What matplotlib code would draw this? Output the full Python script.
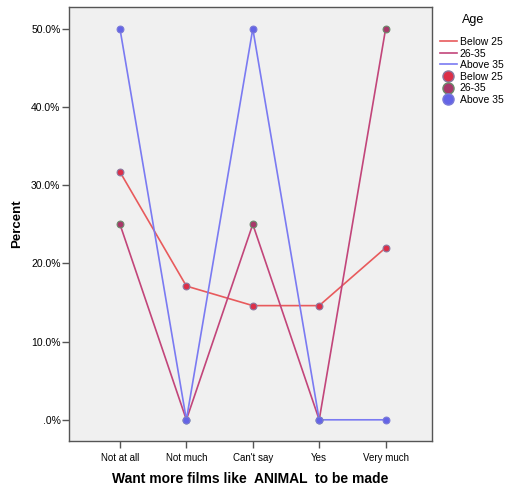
import matplotlib
matplotlib.use("Agg")
import matplotlib.pyplot as plt
from matplotlib.lines import Line2D
from matplotlib.ticker import FuncFormatter

# ── Data ─────────────────────────────────────────────────────────────────────
categories = ["Not at all", "Not much", "Can't say", "Yes", "Very much"]
below_25   = [31.7, 17.1, 14.6, 14.6, 22.0]
age_26_35  = [25.0, 0.0, 25.0, 0.0, 50.0]
above_35   = [50.0, 0.0, 50.0, 0.0, 0.0]
group_names = ["Below 25", "26-35", "Above 35"]

LINE_COLORS = ["#e85a5c", "#c2457a", "#7a7af2"]
MARK_FACE   = ["#dc2f48", "#a8386a", "#6464e6"]
MARK_EDGE   = ["#8a7aa0", "#6c8a6c", "#7a7ad8"]

plt.rcParams["font.family"] = ["Liberation Sans", "DejaVu Sans"]

fig = plt.figure(figsize=(5.06, 4.91), dpi=100)
ax = fig.add_axes([0.136, 0.102, 0.718, 0.884])
ax.set_facecolor("#f0f0f0")

x = list(range(len(categories)))
series = [below_25, age_26_35, above_35]
for vals, lc in zip(series, LINE_COLORS):
    ax.plot(x, vals, color=lc, lw=1.2, zorder=2)
for vals, fc, ec in zip(series, MARK_FACE, MARK_EDGE):
    ax.scatter(x, vals, s=24, color=fc, edgecolors=ec, linewidths=0.8, zorder=3)

ax.set_xlim(-0.77, 4.70)
ax.set_ylim(-2.7, 52.8)
ax.set_xticks(x)
ax.set_xticklabels(categories, fontsize=7)
ax.set_yticks([0, 10, 20, 30, 40, 50])
ax.yaxis.set_major_formatter(FuncFormatter(lambda v, p: ".0%" if abs(v) < 1e-9 else f"{v:.1f}%"))
ax.tick_params(axis="y", labelsize=7.5, length=5, width=1, color="#555555", pad=1)
ax.tick_params(axis="x", length=5, width=1, color="#555555", pad=4)
for sp in ax.spines.values():
    sp.set_color("#555555")
    sp.set_linewidth(1.0)

ax.set_ylabel("Percent", fontsize=9.5, fontweight="bold", labelpad=6)
ax.set_xlabel("Want more films like  ANIMAL  to be made", fontsize=10,
              fontweight="bold", labelpad=6)

fig.text(462 / 506, 1 - 20 / 491, "Age", fontsize=9, ha="left", va="center")
handles = [Line2D([], [], color=c, lw=1.2) for c in LINE_COLORS]
handles += [Line2D([], [], ls="", marker="o", markersize=8, markerfacecolor=fc,
                   markeredgecolor=ec) for fc, ec in zip(MARK_FACE, MARK_EDGE)]
labels = group_names + group_names
fig.legend(handles, labels, loc="upper left", bbox_to_anchor=(440 / 506, 1 - 37 / 491),
           frameon=False, fontsize=7.5, handlelength=1.6, handletextpad=0.3,
           labelspacing=0.15, borderaxespad=0, borderpad=0)

fig.savefig("out.png", dpi=100)
